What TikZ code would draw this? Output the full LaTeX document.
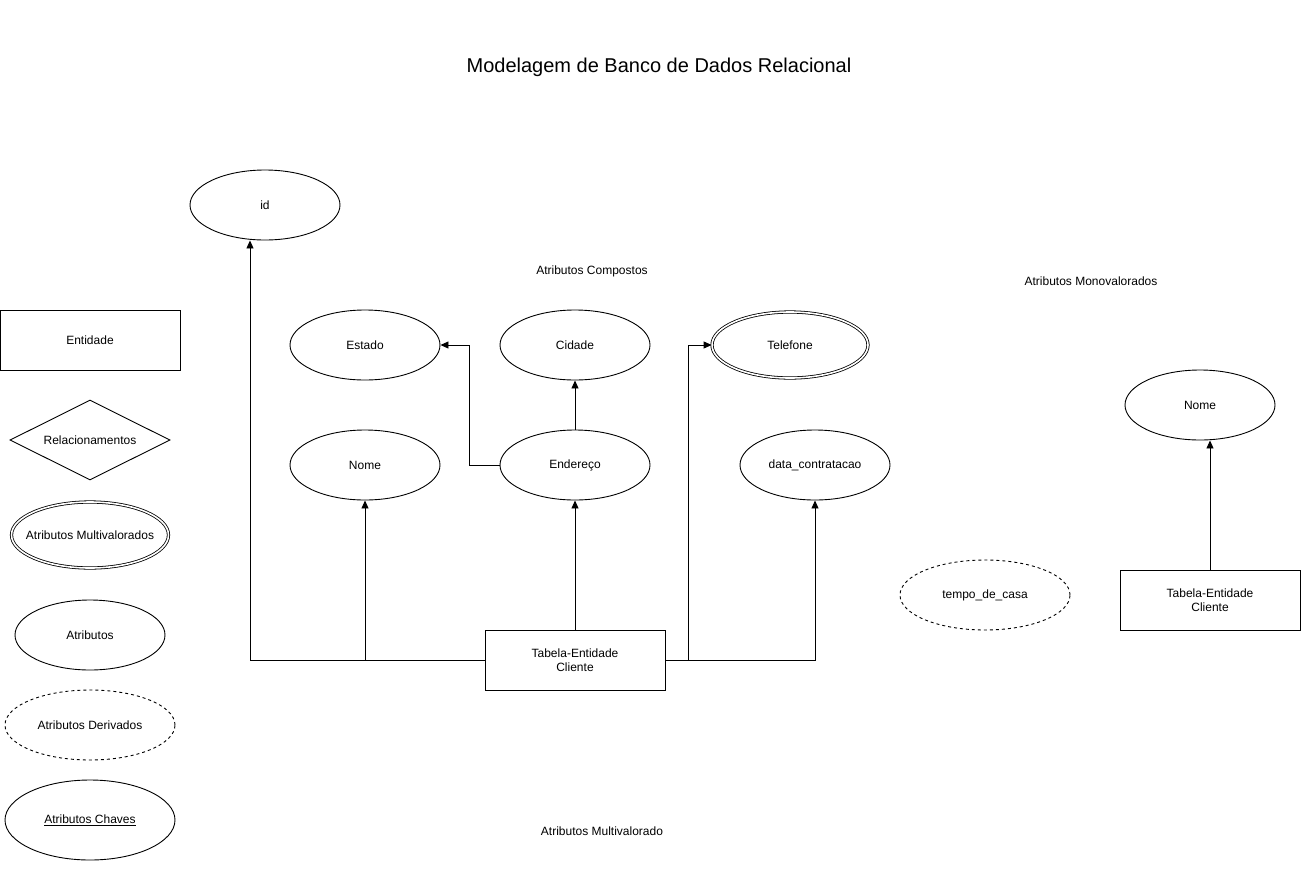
\documentclass[tikz,border=0pt]{standalone}
\usepackage{fontspec}
\setmainfont{Liberation Sans}
\usetikzlibrary{shapes.geometric,arrows.meta,calc}
\begin{document}
\begin{tikzpicture}[x=1pt,y=-1pt,
  every node/.style={font=\fontsize{12}{14}\selectfont, align=center},
  attr/.style={draw, ellipse, line width=0.9pt, inner sep=0pt, minimum width=150pt, minimum height=70pt},
  multi/.style={draw, ellipse, line width=0.8pt, double, double distance=1.6pt, inner sep=0pt},
  derived/.style={attr, dash pattern=on 3pt off 3pt},
  entbox/.style={draw, rectangle, line width=0.9pt, inner sep=0pt, minimum width=180pt, minimum height=60pt},
  plain/.style={inner sep=0pt},
  conn/.style={line width=0.9pt},
  arr/.style={conn, -{Triangle[length=8pt,width=7pt]}}
]
\useasboundingbox (0,0) rectangle (1301,871);
\fill[white] (0,0) rectangle (1301,871);

\node[plain, font=\fontsize{20}{24}\selectfont] (title) at (659,67) {Modelagem de Banco de Dados Relacional};

% legend
\node[entbox] (lent) at (90,340) {Entidade};
\node[draw, diamond, line width=0.9pt, inner sep=0pt, minimum width=160pt, minimum height=80pt, aspect=2] (lrel) at (90,440) {Relacionamentos};
\node[multi, minimum width=157pt, minimum height=66pt, inner xsep=-12pt] (lmulti) at (90,535) {Atributos Multivalorados};
\node[attr] (lattr) at (90,635) {Atributos};
\node[derived, minimum width=170pt] (lder) at (90,725) {Atributos Derivados};
\node[attr, minimum width=170pt, minimum height=80pt] (lkey) at (90,820) {\underline{Atributos Chaves}};

% labels
\node[plain] (lblcomp) at (592,271) {Atributos Compostos};
\node[plain] (lblmono) at (1091,281) {Atributos Monovalorados};
\node[plain] (lblmulti) at (602,831) {Atributos Multivalorado};

% main diagram
\node[attr] (id) at (265,205) {id};
\node[attr] (estado) at (365,345) {Estado};
\node[attr] (cidade) at (575,345) {Cidade};
\node[multi, minimum width=156pt, minimum height=66pt] (tel) at (790,345) {Telefone};
\node[attr] (nome) at (365,465) {Nome};
\node[attr] (end) at (575,465) {Endereço};
\node[attr] (dc) at (815,465) {data\_contratacao};
\node[entbox] (cli) at (575,660) {Tabela-Entidade\\Cliente};

\draw[arr] (cli.west) -| ($(id.south)+(-15,0)$);
\draw[arr] (cli.west -| nome.south) -- (nome.south);
\draw[arr] (cli.north) -- (end.south);
\draw[arr] (end.north) -- (cidade.south);
\draw[arr] (end.west) -- ++(-30,0) |- (estado.east);
\draw[arr] (cli.east) -- ++(23,0) |- (tel.west);
\draw[arr] (cli.east) -| (dc.south);

% right side
\node[derived, minimum width=170pt] (tempo) at (985,595) {tempo\_de\_casa};
\node[attr] (nome2) at (1200,405) {Nome};
\node[entbox] (cli2) at (1210,600) {Tabela-Entidade\\Cliente};
\draw[arr] (cli2.north) -- (cli2.north |- nome2.south);
\end{tikzpicture}
\end{document}
